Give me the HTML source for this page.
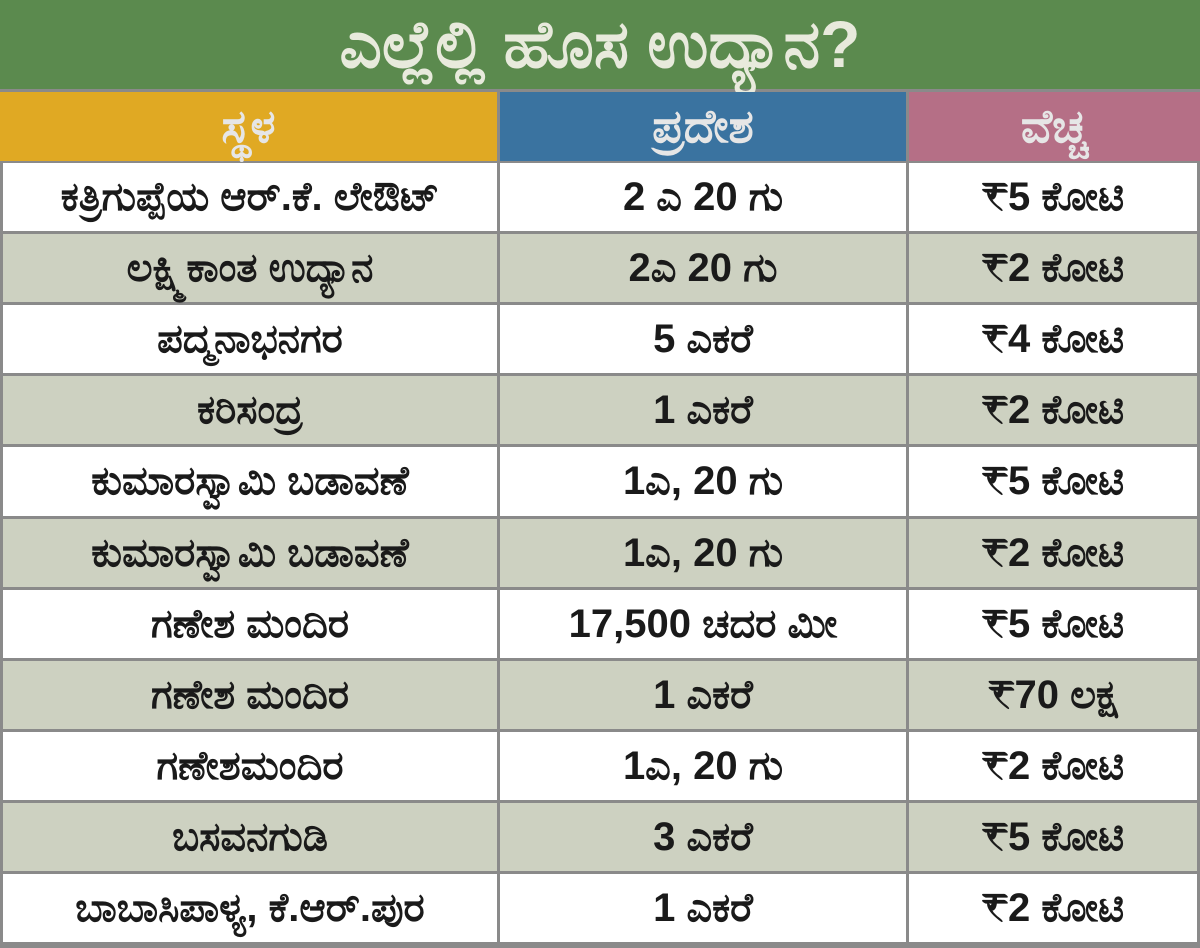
<!DOCTYPE html>
<html><head><meta charset="utf-8"><style>
body{margin:0;width:1200px;height:948px;background:#8a8a8a;overflow:hidden;font-family:"Liberation Sans","Noto Sans CJK SC",sans-serif}
.t{position:absolute;left:0;top:0;width:1200px;height:89px;background:#5b8a4e;color:#e8eadc;font-size:66px;font-weight:bold;text-align:center;line-height:89px;white-space:nowrap}
.c{position:absolute;display:flex;align-items:center;justify-content:center;font-weight:bold;font-size:40px;color:#1a1a1a;white-space:nowrap}
.h{color:#e6e6e6;font-size:46px}
</style></head><body>
<div class="t">ಎಲ್ಲೆಲ್ಲಿ ಹೊಸ ಉದ್ಯಾನ?</div>
<div id="g"></div>
<script>
const places=["ಕತ್ರಿಗುಪ್ಪೆಯ ಆರ್.ಕೆ. ಲೇಔಟ್","ಲಕ್ಷ್ಮಿಕಾಂತ ಉದ್ಯಾನ","ಪದ್ಮನಾಭನಗರ","ಕರಿಸಂದ್ರ","ಕುಮಾರಸ್ವಾಮಿ ಬಡಾವಣೆ","ಕುಮಾರಸ್ವಾಮಿ ಬಡಾವಣೆ","ಗಣೇಶ ಮಂದಿರ","ಗಣೇಶ ಮಂದಿರ","ಗಣೇಶಮಂದಿರ","ಬಸವನಗುಡಿ","ಬಾಬಾಸಿಪಾಳ್ಯ, ಕೆ.ಆರ್.ಪುರ"];
const areas=["2 ಎ 20 ಗು","2ಎ 20 ಗು","5 ಎಕರೆ","1 ಎಕರೆ","1ಎ, 20 ಗು","1ಎ, 20 ಗು","17,500 ಚದರ ಮೀ","1 ಎಕರೆ","1ಎ, 20 ಗು","3 ಎಕರೆ","1 ಎಕರೆ"];
const costs=["₹5 ಕೋಟಿ","₹2 ಕೋಟಿ","₹4 ಕೋಟಿ","₹2 ಕೋಟಿ","₹5 ಕೋಟಿ","₹2 ಕೋಟಿ","₹5 ಕೋಟಿ","₹70 ಲಕ್ಷ","₹2 ಕೋಟಿ","₹5 ಕೋಟಿ","₹2 ಕೋಟಿ"];
const headers=["ಸ್ಥಳ","ಪ್ರದೇಶ","ವೆಚ್ಚ"];
const g=document.getElementById('g');
const cx=[[0,497],[500,406],[909,291]];
const hc=["#e0a923","#3a73a0","#b56f86"];
function cell(x,y,w,h,bg,txt,cls,name){const d=document.createElement('div');d.className='c '+cls;d.style.cssText=`left:${x}px;top:${y}px;width:${w}px;height:${h}px;background:${bg}`;d.textContent=txt;


g.appendChild(d);}
const hn=["header-place","header-area","header-cost"];
headers.forEach((t,i)=>cell(cx[i][0],92,cx[i][1],69,hc[i],t,'h',hn[i]));
const rowH=71.1;
places.forEach((p,r)=>{const y=Math.round(163+r*rowH);const h=Math.round(163+(r+1)*rowH)-y-3;const bg=r%2?'#cdd1c1':'#ffffff';
[p,areas[r],costs[r]].forEach((t,i)=>cell(cx[i][0]+(i==0?3:0),y,cx[i][1]-(i==0?3:0)-(i==2?3:0),h,bg,t,'',['place-cell','area-cell','cost-cell'][i]));});
</script>
</body></html>
